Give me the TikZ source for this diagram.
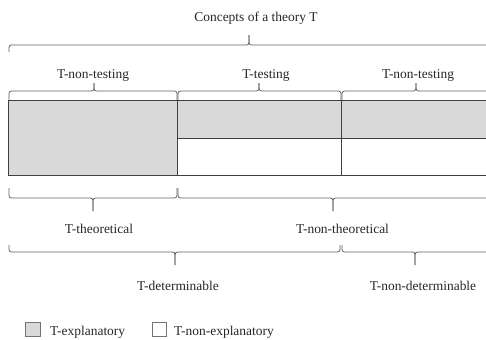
\documentclass[tikz,border=0pt]{standalone}
\usepackage{fontspec}
\setmainfont{Liberation Serif}
\definecolor{fillg}{HTML}{D9D9D9}
\definecolor{brcol}{HTML}{606060}
\definecolor{cellcol}{HTML}{404040}
\newcommand\mybrace[6]{%
  \draw[brc] (#1,#4) -- (#1,#5) -- (#2,#5) -- (#2,#6);
  \draw[brc] (#2,#6) -- (#2,#5) -- (#3,#5) -- (#3,#4);
}
\begin{document}
\begin{tikzpicture}[x=1bp,y=-1bp,
  lbl/.style={font=\fontsize{13.5}{16}\selectfont, inner sep=0pt, anchor=base, text=black!85},
  brc/.style={draw=brcol, line width=0.8bp, rounded corners=2.5bp},
  cell/.style={draw=cellcol, line width=0.9bp},
  legbox/.style={draw=black!55, line width=0.7bp},
]
\useasboundingbox (0,0) rectangle (486,339);
\clip (0,0) rectangle (486,339);
% table cells
\fill[fillg] (8.5,100) rectangle (177.5,175);
\fill[fillg] (177.5,100) rectangle (495,138);
\draw[cell] (495,100) -- (8.5,100) -- (8.5,175) -- (495,175);
\draw[cell] (177.5,100) -- (177.5,175);
\draw[cell] (341,100) -- (341,175);
\draw[cell] (177.5,138) -- (495,138);
% braces
\mybrace{9}{249}{495}{52}{45}{35}
\mybrace{9}{94}{177}{100}{91}{83}
\mybrace{178}{259}{341}{100}{91}{83}
\mybrace{342}{416}{495}{100}{91}{83}
\mybrace{9}{93}{177}{188}{198}{211}
\mybrace{178}{333}{495}{188}{198}{211}
\mybrace{9}{175}{340}{245}{252}{265}
\mybrace{342}{415}{495}{245}{252}{265}
% labels
\node[lbl] (concepts) at (256,21.5) {Concepts of a theory T};
\node[lbl] (nt1) at (93,78.5) {T-non-testing};
\node[lbl] (tt) at (266,78.5) {T-testing};
\node[lbl] (nt2) at (418,78.5) {T-non-testing};
\node[lbl] (theo) at (99,233) {T-theoretical};
\node[lbl] (ntheo) at (342.5,233) {T-non-theoretical};
\node[lbl] (det) at (178,290) {T-determinable};
\node[lbl] (ndet) at (423,290) {T-non-determinable};
% legend
\draw[legbox, fill=fillg] (25,322) rectangle (40,336);
\node[lbl, anchor=base west] (lex) at (50,335) {T-explanatory};
\draw[legbox, fill=white] (152,322) rectangle (166,336);
\node[lbl, anchor=base west] (lnex) at (174,335) {T-non-explanatory};
\end{tikzpicture}
\end{document}
